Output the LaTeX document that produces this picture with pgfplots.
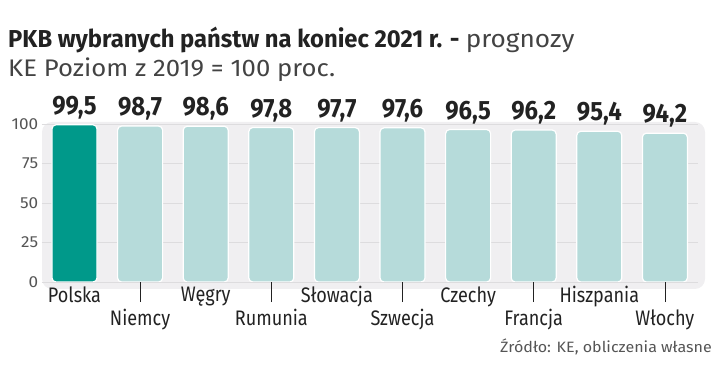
\documentclass[border=0pt]{standalone}
\usepackage{pgfplots}
\pgfplotsset{compat=1.18}
\usepackage{fontspec}
\setmainfont{Fira Sans}[FakeStretch=0.86]
\newfontfamily\cond{Fira Sans}[FakeStretch=0.9]
\newfontfamily\titlef{Fira Sans}[FakeStretch=0.97]
\newfontfamily\lightf{Fira Sans}[FakeStretch=1.07]
\definecolor{teal1}{HTML}{00998A}
\definecolor{teal2}{HTML}{B6DBDA}
\definecolor{txt}{HTML}{222222}
\definecolor{gtxt}{HTML}{555555}
\definecolor{bg}{HTML}{F0EFF1}
\definecolor{gridc}{HTML}{DDDCDE}
\begin{document}
\begin{tikzpicture}[x=1pt,y=1pt]
\path[use as bounding box] (0,0) rectangle (721,375);
\fill[bg, rounded corners=10pt] (42,86) rectangle (705,253);
\node[anchor=base west, inner sep=0, text=txt, font=\titlef\fontsize{24.5}{28}\selectfont] at (8,327) {\textbf{PKB wybranych państw na koniec 2021 r. -} {\lightf\color{txt!85}prognozy}};
\node[anchor=base west, inner sep=0, text=txt!85, font=\lightf\fontsize{24}{28}\selectfont] at (8,298) {KE Poziom z 2019 = 100 proc.};
\node[anchor=base east, inner sep=0, text=gtxt, font=\lightf\fontsize{15}{18}\selectfont] at (712,22) {Źródło: KE, obliczenia własne};
\begin{axis}[
  at={(41.7pt,93pt)}, anchor=south west,
  scale only axis, width=656pt, height=158pt,
  xmin=-0.5, xmax=9.5, ymin=0, ymax=100,
  axis line style={draw=none},
  xtick pos=left, ytick pos=left,
  /pgf/number format/assume math mode=true,
  ytick={0,25,50,75,100},
  ymajorgrids, grid style={draw=gridc, line width=0.8pt},
  yticklabel style={font=\lightf\fontsize{16}{20}\selectfont, text=gtxt},
  xtick={0,...,9},
  xticklabels={Polska,{\strut\\Niemcy},Węgry,{\strut\\Rumunia},Słowacja,{\strut\\Szwecja},Czechy,{\strut\\Francja},Hiszpania,{\strut\\Włochy}},
  xticklabel style={align=center, font=\fontsize{21}{22}\selectfont, text=txt, anchor=north, yshift=-1pt},
  major tick length=0pt,
  tick style={draw=none},
  extra x ticks={1,3,5,7,9}, extra x tick labels={},
  extra x tick style={major tick length=20pt, tick align=outside, tick style={draw=txt, line width=0.8pt}, grid=none},
  point meta=y,
  nodes near coords={\pgfmathprintnumber[assume math mode=true,use comma,fixed,fixed zerofill,precision=1]{\pgfplotspointmeta}},
  nodes near coords style={font=\cond\bfseries\fontsize{26.5}{28}\selectfont, text=txt, anchor=south, inner sep=0pt, yshift=5pt},
]
\addplot[ybar, bar width=45pt, bar shift=0pt, fill=teal1, draw=white, line width=1.2pt, rounded corners=4pt] coordinates {(0,99.5)};
\addplot[ybar, bar width=45pt, bar shift=0pt, fill=teal2, draw=white, line width=1.2pt, rounded corners=4pt] coordinates {(1,98.7) (2,98.6) (3,97.8) (4,97.7) (5,97.6) (6,96.5) (7,96.2) (8,95.4) (9,94.2)};
\end{axis}
\end{tikzpicture}
\end{document}
